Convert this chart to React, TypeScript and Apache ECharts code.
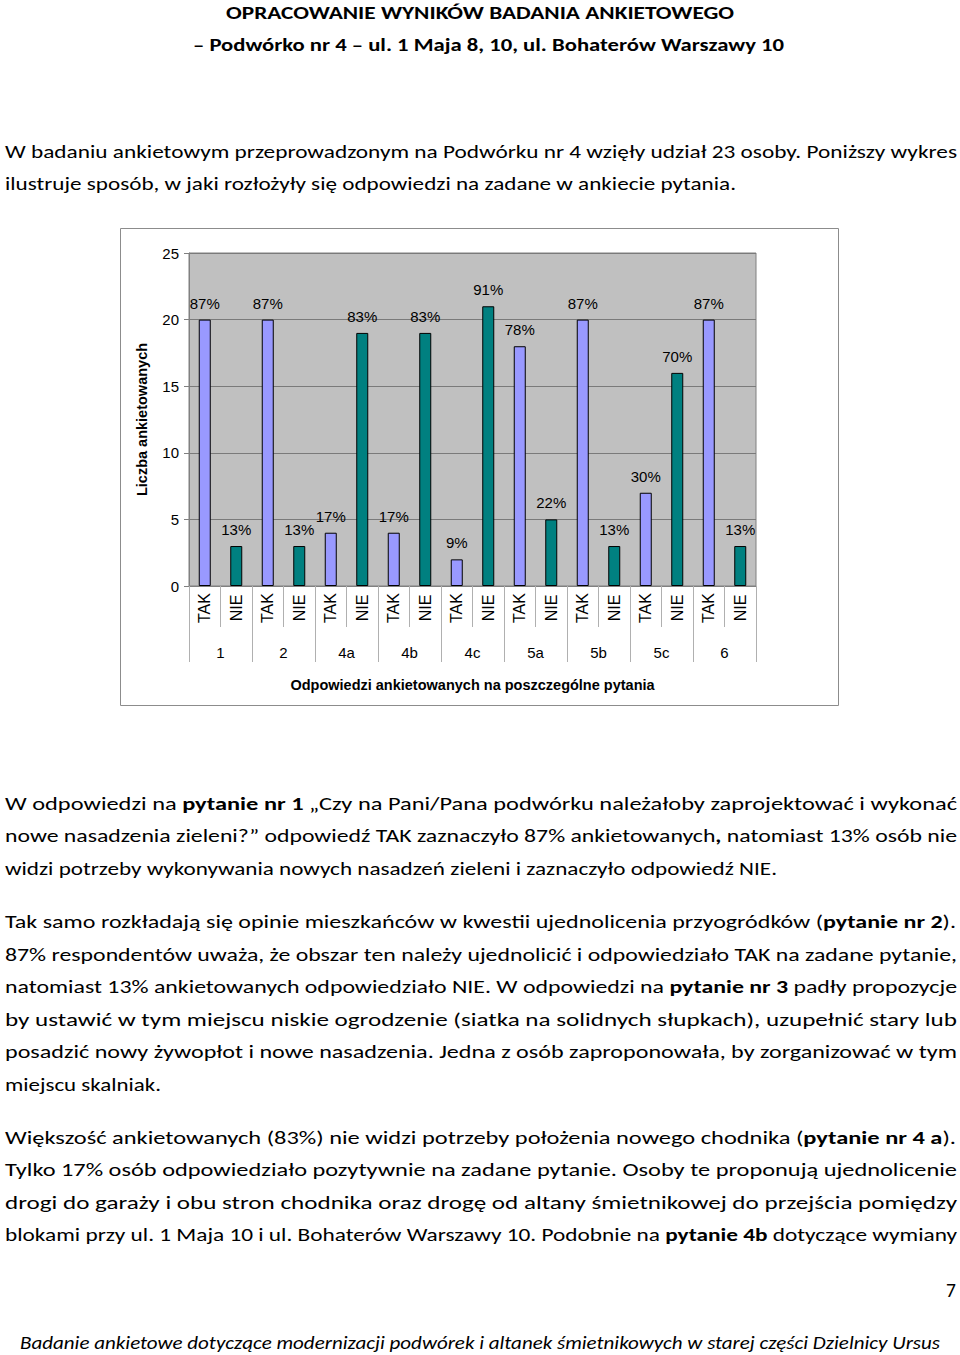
import React, { useEffect, useRef } from "react";
import * as echarts from "echarts";

// ---- Chart data ----
const questions = ["1", "2", "4a", "4b", "4c", "5a", "5b", "5c", "6"];
const answers = ["TAK", "NIE"];
const takCounts = [20, 20, 4, 4, 2, 18, 20, 7, 20];
const nieCounts = [3, 3, 19, 19, 21, 5, 3, 16, 3];
const takPct = ["87%", "87%", "17%", "17%", "9%", "78%", "87%", "30%", "87%"];
const niePct = ["13%", "13%", "83%", "83%", "91%", "22%", "13%", "70%", "13%"];
const yTicks = { min: 0, max: 25, interval: 5 };
const xTitle = "Odpowiedzi ankietowanych na poszczególne pytania";
const yTitle = "Liczba ankietowanych";

// ---- Page text ----
const titleLines = [
  "OPRACOWANIE WYNIKÓW BADANIA ANKIETOWEGO",
  "– Podwórko nr 4 – ul. 1 Maja 8, 10, ul. Bohaterów Warszawy 10",
];
const paragraph1 = [
  "W badaniu ankietowym przeprowadzonym na Podwórku nr 4 wzięły udział 23 osoby. Poniższy wykres",
  "ilustruje sposób, w jaki rozłożyły się odpowiedzi na zadane w ankiecie pytania.",
];
const paragraph2 = [
  "W odpowiedzi na **pytanie nr 1** „Czy na Pani/Pana podwórku należałoby zaprojektować i wykonać",
  "nowe nasadzenia zieleni?” odpowiedź TAK zaznaczyło 87% ankietowanych**,** natomiast 13% osób nie",
  "widzi potrzeby wykonywania nowych nasadzeń zieleni i zaznaczyło odpowiedź NIE.",
];
const paragraph3 = [
  "Tak samo rozkładają się opinie mieszkańców w kwestii ujednolicenia przyogródków (**pytanie nr 2**).",
  "87% respondentów uważa, że obszar ten należy ujednolicić i odpowiedziało TAK na zadane pytanie,",
  "natomiast 13% ankietowanych odpowiedziało NIE. W odpowiedzi na **pytanie nr 3** padły propozycje",
  "by ustawić w tym miejscu niskie ogrodzenie (siatka na solidnych słupkach), uzupełnić stary lub",
  "posadzić nowy żywopłot i nowe nasadzenia. Jedna z osób zaproponowała, by zorganizować w tym",
  "miejscu skalniak.",
];
const paragraph4 = [
  "Większość ankietowanych (83%) nie widzi potrzeby położenia nowego chodnika (**pytanie nr 4 a**).",
  "Tylko 17% osób odpowiedziało pozytywnie na zadane pytanie. Osoby te proponują ujednolicenie",
  "drogi do garaży i obu stron chodnika oraz drogę od altany śmietnikowej do przejścia pomiędzy",
  "blokami przy ul. 1 Maja 10 i ul. Bohaterów Warszawy 10. Podobnie na **pytanie 4b** dotyczące wymiany",
];
const pageNumber = "7";
const footer =
  "Badanie ankietowe dotyczące modernizacji podwórek i altanek śmietnikowych w starej części Dzielnicy Ursus";

// layout of text lines
type Line = { text: string; cy: number; x0: number; x1: number };
const bodyLines: Line[] = [
  { text: paragraph1[0], cy: 152, x0: 5, x1: 957 },
  { text: paragraph1[1], cy: 184, x0: 5, x1: 736 },
  { text: paragraph2[0], cy: 804, x0: 5, x1: 957 },
  { text: paragraph2[1], cy: 836, x0: 5, x1: 957 },
  { text: paragraph2[2], cy: 869, x0: 5, x1: 777 },
  { text: paragraph3[0], cy: 922, x0: 5, x1: 956 },
  { text: paragraph3[1], cy: 955, x0: 5, x1: 957 },
  { text: paragraph3[2], cy: 987, x0: 5, x1: 957 },
  { text: paragraph3[3], cy: 1020, x0: 5, x1: 957 },
  { text: paragraph3[4], cy: 1052, x0: 5, x1: 957 },
  { text: paragraph3[5], cy: 1085, x0: 5, x1: 161 },
  { text: paragraph4[0], cy: 1138, x0: 5, x1: 956 },
  { text: paragraph4[1], cy: 1170, x0: 5, x1: 957 },
  { text: paragraph4[2], cy: 1203, x0: 5, x1: 957 },
  { text: paragraph4[3], cy: 1235, x0: 5, x1: 957 },
];

const FONT = "Carlito, Lato, 'Noto Sans', sans-serif";

function renderSegments(text: string) {
  const parts = text.split("**");
  return parts.map((p, i) =>
    i % 2 === 1 ? (
      <tspan key={i} fontWeight="bold">
        {p}
      </tspan>
    ) : (
      <tspan key={i}>{p}</tspan>
    )
  );
}

function Chart() {
  const ref = useRef<HTMLDivElement>(null);
  useEffect(() => {
    if (!ref.current) return;
    const chart = echarts.init(ref.current, null, { renderer: "svg" });
    const cats: string[] = [];
    const values: any[] = [];
    const pcts: string[] = [];
    questions.forEach((q, i) => {
      cats.push(answers[0]);
      values.push({ value: takCounts[i], itemStyle: { color: "#9999FF" } });
      pcts.push(takPct[i]);
      cats.push(answers[1]);
      values.push({ value: nieCounts[i], itemStyle: { color: "#008080" } });
      pcts.push(niePct[i]);
    });
    const chartFont = "'Liberation Sans', Arial, sans-serif";
    chart.setOption({
      animation: false,
      textStyle: { fontFamily: chartFont, color: "#000" },
      graphic: [
        {
          type: "rect",
          shape: { x: 0.5, y: 0.5, width: 718, height: 477 },
          style: { fill: "none", stroke: "#8c8c8c", lineWidth: 1 },
          silent: true,
        },
      ],
      grid: {
        left: 69,
        top: 25,
        right: 83,
        bottom: 120,
        show: true,
        backgroundColor: "#C0C0C0",
        borderColor: "#808080",
        borderWidth: 1,
      },
      xAxis: [
        {
          type: "category",
          data: cats,
          position: "bottom",
          axisLine: { show: true, lineStyle: { color: "#808080", width: 1 } },
          axisTick: {
            show: true,
            interval: 0,
            alignWithLabel: false,
            length: 41,
            lineStyle: { color: "#b0b0b0" },
          },
          axisLabel: {
            interval: 0,
            rotate: 90,
            align: "center",
            verticalAlign: "middle",
            margin: 22,
            fontSize: 16,
            color: "#000",
            fontFamily: chartFont,
          },
          name: xTitle,
          nameLocation: "middle",
          nameGap: 91,
          nameTextStyle: {
            fontSize: 14.5,
            fontWeight: "bold",
            color: "#000",
            fontFamily: chartFont,
          },
        },
        {
          type: "category",
          data: questions,
          position: "bottom",
          axisLine: { show: false },
          axisTick: {
            show: true,
            interval: 0,
            alignWithLabel: false,
            length: 76,
            lineStyle: { color: "#b0b0b0" },
          },
          axisLabel: {
            interval: 0,
            margin: 59,
            fontSize: 15,
            color: "#000",
            fontFamily: chartFont,
          },
        },
      ],
      yAxis: {
        type: "value",
        min: yTicks.min,
        max: yTicks.max,
        interval: yTicks.interval,
        axisLine: { show: true, lineStyle: { color: "#808080" } },
        axisTick: { show: true, length: 5, lineStyle: { color: "#808080" } },
        axisLabel: { fontSize: 15, color: "#000", margin: 10, fontFamily: chartFont },
        splitLine: { show: true, lineStyle: { color: "#7a7a7a", width: 1 } },
        name: yTitle,
        nameLocation: "middle",
        nameRotate: 90,
        nameGap: 40,
        nameTextStyle: {
          fontSize: 14.5,
          fontWeight: "bold",
          color: "#000",
          fontFamily: chartFont,
        },
      },
      series: [
        {
          type: "bar",
          xAxisIndex: 0,
          data: values,
          barWidth: 12,
          itemStyle: { borderColor: "#000", borderWidth: 1 },
          label: {
            show: true,
            position: "top",
            distance: 9,
            fontSize: 15,
            color: "#000",
            fontFamily: chartFont,
            formatter: (p: any) => pcts[p.dataIndex],
          },
        },
      ],
    });
    return () => chart.dispose();
  }, []);
  return (
    <div
      ref={ref}
      style={{ position: "absolute", left: 120, top: 228, width: 719, height: 478 }}
    />
  );
}

export default function App() {
  return (
    <div
      style={{
        position: "absolute",
        left: 0,
        top: 0,
        width: 960,
        height: 1355,
        background: "#fff",
        overflow: "hidden",
      }}
    >
      <svg
        width={960}
        height={1355}
        style={{ position: "absolute", left: 0, top: 0 }}
        fontFamily={FONT}
      >
        <text
          x={480}
          y={19}
          textAnchor="middle"
          fontSize={18.5}
          fontWeight="bold"
          fill="#000"
          textLength={508}
          lengthAdjust="spacingAndGlyphs"
        >
          {titleLines[0]}
        </text>
        <text
          x={488.5}
          y={51}
          textAnchor="middle"
          fontSize={18.5}
          fontWeight="bold"
          fill="#000"
          textLength={591}
          lengthAdjust="spacingAndGlyphs"
        >
          {titleLines[1]}
        </text>
        {bodyLines.map((l, i) => (
          <text
            key={i}
            x={l.x0}
            y={l.cy + 6}
            fontSize={19}
            fill="#000"
            textLength={l.x1 - l.x0}
            lengthAdjust="spacingAndGlyphs"
          >
            {renderSegments(l.text)}
          </text>
        ))}
        <text x={956} y={1297} textAnchor="end" fontSize={19.5} fill="#000">
          {pageNumber}
        </text>
        <text
          x={480}
          y={1349}
          textAnchor="middle"
          fontSize={19}
          fontStyle="italic"
          fill="#000"
          textLength={920}
          lengthAdjust="spacingAndGlyphs"
        >
          {footer}
        </text>
      </svg>
      <Chart />
    </div>
  );
}
